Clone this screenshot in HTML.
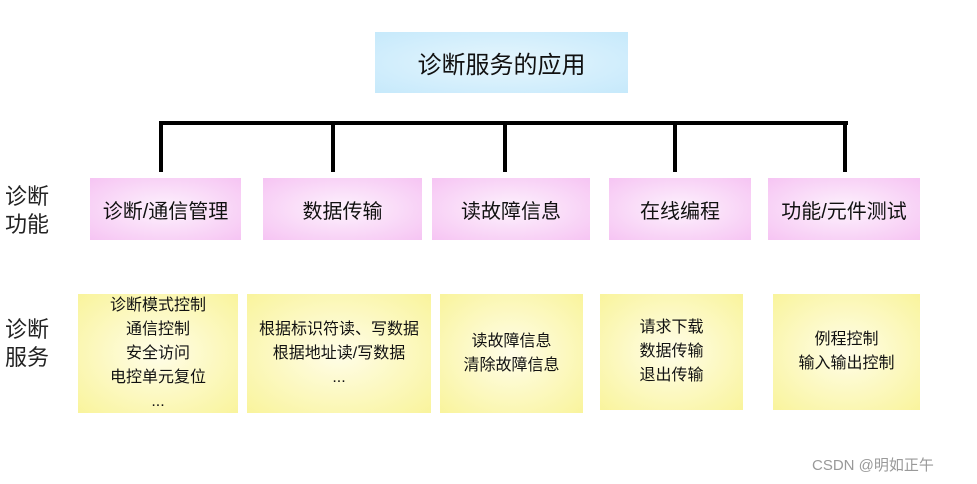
<!DOCTYPE html>
<html><head><meta charset="utf-8"><style>
body{margin:0;width:977px;height:484px;background:#fff;position:relative;overflow:hidden;font-family:"Liberation Sans","Noto Sans CJK SC",sans-serif;}
.b{position:absolute;display:flex;align-items:center;justify-content:center;text-align:center;color:#111;}
.top{background:radial-gradient(ellipse at center,#e6f6fd 0%,#c6e9fb 100%);font-size:24px;}
.p{background:radial-gradient(ellipse at center,#fdf2fd 0%,#f6c4f3 100%);font-size:20px;top:178px;height:62px;}
.y{background:radial-gradient(ellipse at center,#fffde8 0%,#f9f49c 100%);font-size:16px;line-height:24px;top:294px;height:119px;}
.l{position:absolute;left:5px;font-size:22px;line-height:28px;color:#222;}
.v{position:absolute;width:4px;background:#000;top:122px;height:50px;}
</style></head><body>
<div class="b top" style="left:375px;top:32px;width:253px;height:61px;">诊断服务的应用</div>
<div style="position:absolute;left:159px;top:121px;width:689px;height:4px;background:#000"></div>
<div class="v" style="left:159px"></div>
<div class="v" style="left:331px"></div>
<div class="v" style="left:503px"></div>
<div class="v" style="left:673px"></div>
<div class="v" style="left:843px"></div>
<div class="l" style="top:183px">诊断<br>功能</div>
<div class="l" style="top:316px">诊断<br>服务</div>
<div class="b p" style="left:90px;width:151px;">诊断/通信管理</div>
<div class="b p" style="left:263px;width:159px;">数据传输</div>
<div class="b p" style="left:432px;width:158px;">读故障信息</div>
<div class="b p" style="left:609px;width:142px;">在线编程</div>
<div class="b p" style="left:768px;width:152px;">功能/元件测试</div>
<div class="b y" style="left:78px;width:160px;">诊断模式控制<br>通信控制<br>安全访问<br>电控单元复位<br>...</div>
<div class="b y" style="left:247px;width:184px;">根据标识符读、写数据<br>根据地址读/写数据<br>...</div>
<div class="b y" style="left:440px;width:143px;">读故障信息<br>清除故障信息</div>
<div class="b y" style="left:600px;width:143px;height:116px;">请求下载<br>数据传输<br>退出传输</div>
<div class="b y" style="left:773px;width:147px;height:116px;">例程控制<br>输入输出控制</div>
<div style="position:absolute;left:812px;top:454px;font-size:15px;color:#999;">CSDN @明如正午</div>
</body></html>
